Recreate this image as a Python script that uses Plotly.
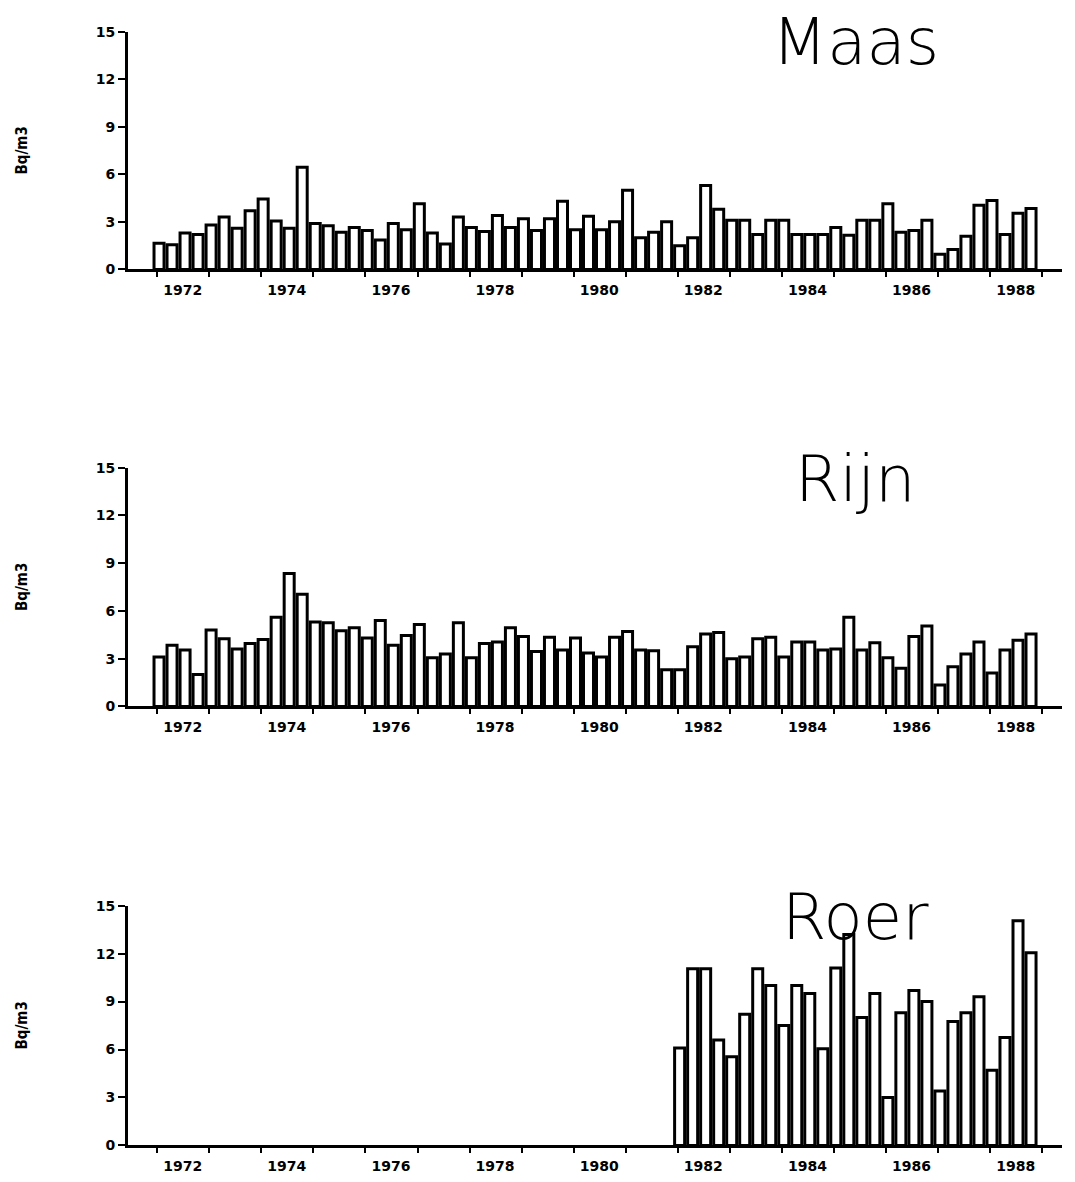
import plotly.graph_objects as go

# ---------------- data ----------------
years = list(range(1972, 1989))          # 1972 .. 1988
quarters = [1, 2, 3, 4]

maas = [1.65, 1.55, 2.3, 2.2, 2.8, 3.3, 2.6, 3.7, 4.45, 3.05, 2.6, 6.45,
        2.9, 2.75, 2.35, 2.65, 2.45, 1.85, 2.9, 2.5, 4.15, 2.3, 1.6, 3.3,
        2.65, 2.4, 3.4, 2.65, 3.2, 2.45, 3.2, 4.3, 2.5, 3.35, 2.5, 3.0,
        5.0, 2.0, 2.35, 3.0, 1.5, 2.0, 5.3, 3.8, 3.1, 3.1, 2.2, 3.1,
        3.1, 2.2, 2.2, 2.2, 2.65, 2.15, 3.1, 3.1, 4.15, 2.35, 2.45, 3.1,
        0.95, 1.25, 2.1, 4.05, 4.35, 2.2, 3.55, 3.85]

rijn = [3.1, 3.85, 3.55, 2.0, 4.8, 4.25, 3.6, 3.95, 4.2, 5.6, 8.35, 7.05,
        5.3, 5.25, 4.75, 4.95, 4.3, 5.4, 3.85, 4.45, 5.15, 3.05, 3.3, 5.25,
        3.05, 3.95, 4.05, 4.95, 4.4, 3.45, 4.35, 3.55, 4.3, 3.35, 3.1, 4.35,
        4.7, 3.55, 3.5, 2.3, 2.3, 3.75, 4.55, 4.65, 3.0, 3.1, 4.25, 4.35,
        3.1, 4.05, 4.05, 3.55, 3.6, 5.6, 3.55, 4.0, 3.05, 2.4, 4.4, 5.05,
        1.35, 2.5, 3.3, 4.05, 2.1, 3.55, 4.15, 4.55]

roer_start_year = 1982
roer = [6.1, 11.05, 11.05, 6.6, 5.55, 8.2, 11.05, 10.0, 7.5, 10.0, 9.5, 6.05,
        11.1, 13.2, 8.0, 9.5, 3.0, 8.3, 9.7, 9.0, 3.4, 7.75, 8.3, 9.3,
        4.7, 6.75, 14.05, 12.05]

panel_titles = ["Maas", "Rijn", "Roer"]
y_title = "Bq/m3"
y_ticks = [0, 3, 6, 9, 12, 15]
label_years = [1972, 1974, 1976, 1978, 1980, 1982, 1984, 1986, 1988]

# quarter centres on a continuous year scale
x_all = [y + (q - 0.5) / 4 for y in years for q in quarters]
x_roer = [y + (q - 0.5) / 4 for y in years if y >= roer_start_year for q in quarters]

# ---------------- figure ----------------
W, H = 1075, 1182
fig = go.Figure()

series = [maas, rijn, roer]
xs = [x_all, x_all, x_roer]
for i, (xv, yv) in enumerate(zip(xs, series)):
    sfx = "" if i == 0 else str(i + 1)
    fig.add_trace(go.Bar(
        x=xv, y=yv,
        xaxis="x" + sfx, yaxis="y" + sfx,
        marker=dict(color="white", line=dict(color="black", width=3)),
        showlegend=False, hoverinfo="x+y",
    ))

# pixel geometry of each panel: (pixel of y=0, pixel of y=15)
panels_px = [(265, 24), (708, 466), (1153, 910)]
x_left_px, x_right_px = 128, 1062

tick_font = dict(family="DejaVu Sans, Liberation Sans, sans-serif", size=14,
                 color="black", weight="bold")

layout = dict(
    width=W, height=H,
    margin=dict(l=0, r=0, t=0, b=0),
    paper_bgcolor="white", plot_bgcolor="white",
    bargap=0.23,
    showlegend=False,
)

for i, (p0, p15) in enumerate(panels_px):
    sfx = "" if i == 0 else str(i + 1)
    layout["xaxis" + sfx] = dict(
        domain=[x_left_px / W, x_right_px / W],
        range=[1971.529, 1989.47],
        anchor="y" + sfx,
        showline=True, linewidth=3, linecolor="black",
        showgrid=False, zeroline=False,
        tickmode="array",
        tickvals=[y + 0.58 for y in label_years],
        ticktext=[str(y) for y in label_years],
        ticks="", ticklabelstandoff=6,
        tickfont=tick_font,
        minor=dict(tickmode="linear", tick0=1972.09, dtick=1, ticks="outside",
                   ticklen=5, tickwidth=2, tickcolor="black", showgrid=False),
    )
    layout["yaxis" + sfx] = dict(
        domain=[1 - p0 / H, 1 - p15 / H],
        range=[0, 15],
        anchor="x" + sfx,
        showline=True, linewidth=3, linecolor="black",
        showgrid=False, zeroline=False,
        tickmode="array", tickvals=y_ticks,
        ticktext=[str(v) for v in y_ticks],
        ticks="outside", ticklen=7, tickwidth=2, tickcolor="black",
        tickfont=tick_font,
    )

fig.update_layout(**layout)

# panel titles and y-axis titles
title_centers_px = [34, 477, 921]
for i, (name, (p0, p15)) in enumerate(zip(panel_titles, panels_px)):
    fig.add_annotation(
        text=name, xref="paper", yref="paper",
        x=855 / W, y=1 - title_centers_px[i] / H,
        xanchor="center", yanchor="middle", showarrow=False,
        font=dict(family="DejaVu Sans, Open Sans, sans-serif", size=64,
                  color="black", weight=200),
    )
    fig.add_annotation(
        text=y_title, xref="paper", yref="paper",
        x=22 / W, y=1 - ((p0 + p15) / 2) / H,
        xanchor="center", yanchor="middle", showarrow=False, textangle=-90,
        font=dict(family="Liberation Sans Narrow, DejaVu Sans Condensed, Liberation Sans, sans-serif",
                  size=15, color="black", weight="bold"),
    )

fig.write_html("out.html")
